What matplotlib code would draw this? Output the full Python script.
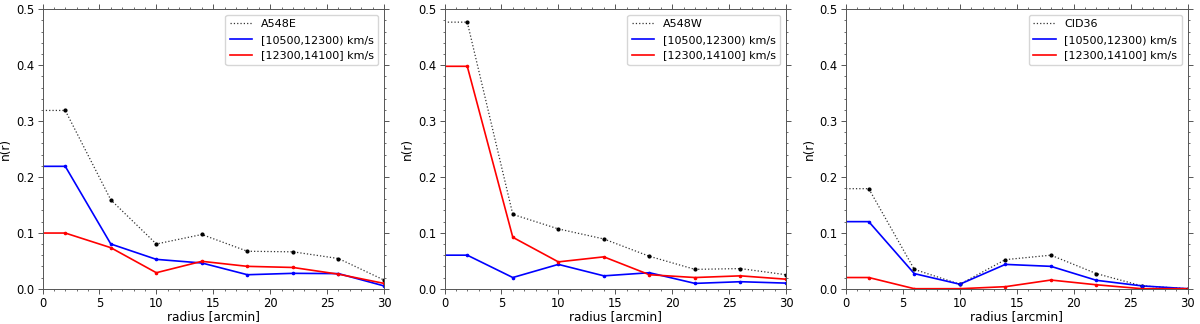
import matplotlib
matplotlib.use("Agg")
import matplotlib.pyplot as plt
from matplotlib.ticker import MultipleLocator

radius = [0, 2, 6, 10, 14, 18, 22, 26, 30]
labels_total = ["A548E", "A548W", "CID36"]
label_low = "[10500,12300) km/s"
label_high = "[12300,14100] km/s"

total_A548E = [0.319, 0.319, 0.159, 0.080, 0.097, 0.067, 0.066, 0.054, 0.0155]
low_A548E = [0.219, 0.219, 0.080, 0.0525, 0.046, 0.025, 0.0275, 0.027, 0.005]
high_A548E = [0.0996, 0.0996, 0.0734, 0.0286, 0.049, 0.040, 0.038, 0.026, 0.0095]

total_A548W = [0.477, 0.477, 0.133, 0.107, 0.089, 0.058, 0.0346, 0.036, 0.025]
low_A548W = [0.060, 0.060, 0.020, 0.0435, 0.023, 0.0286, 0.0095, 0.0125, 0.010]
high_A548W = [0.398, 0.398, 0.092, 0.048, 0.057, 0.025, 0.020, 0.023, 0.017]

total_CID36 = [0.179, 0.179, 0.0346, 0.008, 0.052, 0.060, 0.027, 0.005, 0.0]
low_CID36 = [0.120, 0.120, 0.027, 0.008, 0.0435, 0.040, 0.015, 0.005, 0.0]
high_CID36 = [0.020, 0.020, 0.0, 0.0, 0.0036, 0.0155, 0.007, 0.0, 0.0]

panels = [
    (labels_total[0], total_A548E, low_A548E, high_A548E),
    (labels_total[1], total_A548W, low_A548W, high_A548W),
    (labels_total[2], total_CID36, low_CID36, high_CID36),
]

fig = plt.figure(figsize=(12, 3.24), dpi=100)
W, H = 1200.0, 324.0
lefts_px = [42.5, 444.5, 846.0]
width_px = 341.5
top_px, bottom_px = 9.3, 288.7
for lp, (name, tot, low, high) in zip(lefts_px, panels):
    ax = fig.add_axes([lp / W, 1 - bottom_px / H, width_px / W, (bottom_px - top_px) / H])
    # lines (for legend)
    ax.plot(radius, tot, color="#333333", linestyle=":", linewidth=0.9, label=name)
    ax.plot(radius, low, color="blue", linewidth=1.2, label=label_low)
    ax.plot(radius, high, color="red", linewidth=1.2, label=label_high)
    # point markers (binned points, not at r=0)
    ax.plot(radius, tot, linestyle="none", marker="o", markersize=2.0, color="black",
            markevery=slice(1, None))
    ax.plot(radius, low, linestyle="none", marker="o", markersize=1.6, color="blue",
            markevery=slice(1, None))
    ax.plot(radius, high, linestyle="none", marker="o", markersize=1.6, color="red",
            markevery=slice(1, None))
    ax.set_xlim(0, 30)
    ax.set_ylim(0, 0.5)
    ax.xaxis.set_major_locator(MultipleLocator(5))
    ax.xaxis.set_minor_locator(MultipleLocator(1))
    ax.yaxis.set_major_locator(MultipleLocator(0.1))
    ax.yaxis.set_minor_locator(MultipleLocator(0.02))
    ax.tick_params(which="both", direction="out", top=True, right=True,
                   labelsize=8.3, color="#555555", pad=2.5)
    ax.tick_params(which="major", length=3.4, width=0.7)
    ax.tick_params(which="minor", length=1.6, width=0.6)
    for s in ax.spines.values():
        s.set_linewidth(0.7)
        s.set_color("#555555")
    ax.set_xlabel("radius [arcmin]", fontsize=8.7, labelpad=0)
    ax.set_ylabel("n(r)", fontsize=8.7, labelpad=3)
    ax.legend(loc="upper right", fontsize=8, borderaxespad=0.5)

fig.savefig("out.png", dpi=100)
